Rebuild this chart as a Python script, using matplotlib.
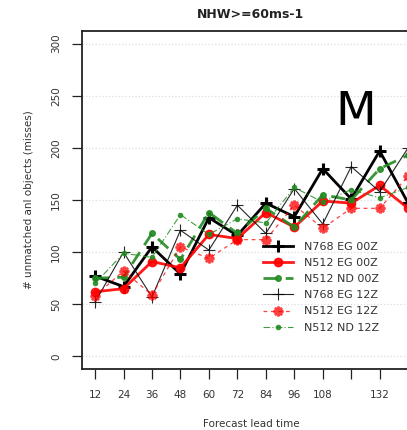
import numpy as np
import matplotlib
matplotlib.use("Agg")
import matplotlib.pyplot as plt

# lead times (hours)
lead = [12, 24, 36, 48, 60, 72, 84, 96, 108, 120, 132, 144]

# misses per run
n768_eg_00 = [77, 67, 105, 79, 133, 116, 147, 134, 180, 151, 197, 147]
n512_eg_00 = [62, 65, 91, 85, 117, 113, 138, 124, 149, 147, 164, 142]
n512_nd_00 = [75, 76, 118, 93, 138, 118, 142, 124, 155, 150, 180, 193]
n768_eg_12 = [52, 100, 57, 121, 102, 145, 118, 161, 127, 182, 158, 200]
n512_eg_12 = [58, 82, 59, 105, 94, 112, 112, 145, 123, 142, 142, 173]
n512_nd_12 = [70, 99, 95, 136, 117, 132, 128, 162, 148, 160, 152, 162]

labels = ["N768 EG 00Z", "N512 EG 00Z", "N512 ND 00Z",
          "N768 EG 12Z", "N512 EG 12Z", "N512 ND 12Z"]
xtick_vals = [12, 24, 36, 48, 60, 72, 84, 96, 108, 120, 132, 144]
xtick_labs = ["12", "24", "36", "48", "60", "72", "84", "96", "108", "", "132", ""]

green = "#228B22"

fig = plt.figure(figsize=(4.07, 4.30), dpi=100)
ax = fig.add_axes([82 / 407, 61 / 430, 338 / 407, 338 / 430])

ax.plot(lead, n768_eg_00, color="black", lw=2.0, marker="+", ms=8, mew=2.2, label=labels[0])
ax.plot(lead, n512_eg_00, color="red", lw=2.0, marker="o", ms=6, label=labels[1], alpha=0.9)
ax.plot(lead, n512_nd_00, color=green, lw=2.0, ls=(0, (5, 3)), marker="o", ms=4,
        label=labels[2], alpha=0.9)
ax.plot(lead, n768_eg_12, color="black", lw=0.8, marker="+", ms=8, mew=0.8,
        label=labels[3], alpha=0.85)
ax.plot(lead, n512_eg_12, color="red", lw=0.9, ls=(0, (3, 3)), marker=(8, 2, 0), ms=7,
        mew=1.8, label=labels[4], alpha=0.75)
ax.plot(lead, n512_nd_12, color=green, lw=0.8, ls=(0, (6, 2, 1, 2)), marker="o", ms=3,
        label=labels[5], alpha=0.85)

ax.set_xlim(6.5, 149)
ax.set_ylim(-12, 312)
ax.set_yticks([0, 50, 100, 150, 200, 250, 300])
ax.set_xticks(xtick_vals)
ax.set_xticklabels(xtick_labs)
for t in ax.get_yticklabels():
    t.set_rotation(90)
    t.set_va("center")
ax.tick_params(direction="out", length=7, width=0.9, colors="#222222",
               labelsize=7.5, labelcolor="#333333", pad=8)
ax.grid(axis="y", ls=":", color="#dddddd", lw=0.9)
for s in ax.spines.values():
    s.set_linewidth(1.3)
    s.set_color("#222222")

ax.set_title("NHW>=60ms-1", fontsize=9, fontweight="bold", pad=9, color="#222222")
ax.set_xlabel("Forecast lead time", fontsize=7.5, color="#333333", labelpad=14)
ax.set_ylabel("# unmatched anl objects (misses)", fontsize=7.5, color="#333333", labelpad=12)

ax.text(0.81, 0.76, "M", transform=ax.transAxes, fontsize=34, ha="center", va="center")

ax.legend(loc="upper left", bbox_to_anchor=((263 - 82) / 338, (369 - 242) / 338),
          frameon=False, fontsize=8, handlelength=2.7, handletextpad=1.0,
          labelspacing=0.55, borderpad=0, borderaxespad=0, labelcolor="#333333")

fig.savefig("out.png", dpi=100)
